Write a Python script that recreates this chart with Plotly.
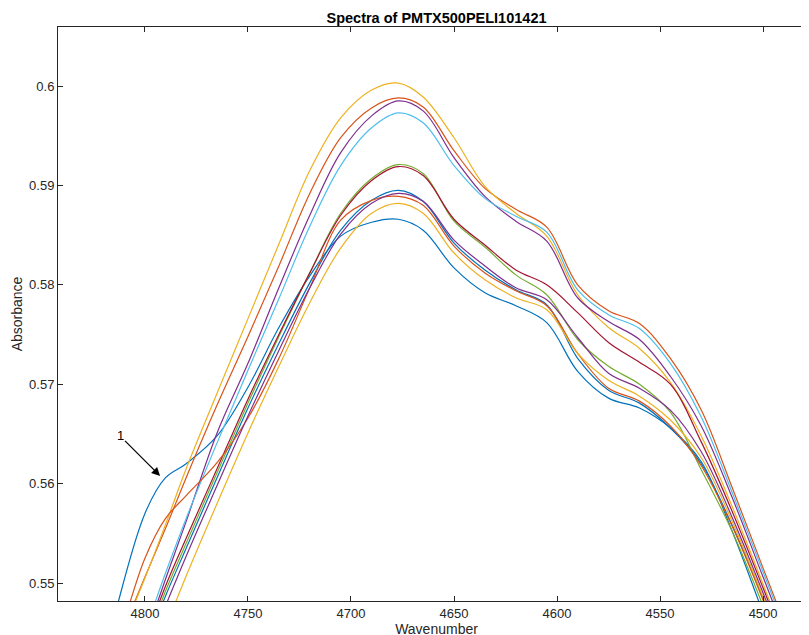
import plotly.graph_objects as go

# wavenumber grid (cm-1) the spectra were read at
wavenumber = [4830, 4815, 4800, 4790, 4780, 4765, 4750, 4735, 4720, 4705, 4690, 4677, 4665,
              4650, 4635, 4620, 4605, 4590, 4575, 4560, 4545, 4530, 4515, 4500, 4485]

# absorbance of each spectrum, plotted in this order
spec_01 = [0.5340, 0.5465, 0.5570, 0.5606, 0.5620, 0.5648, 0.5697, 0.5757, 0.5809, 0.5849, 0.5863, 0.5866, 0.5855,
           0.5817, 0.5792, 0.5779, 0.5762, 0.5713, 0.5686, 0.5676, 0.5656, 0.5622, 0.5552, 0.5470, 0.5390]
spec_02 = [0.5350, 0.5430, 0.5506, 0.5555, 0.5606, 0.5679, 0.5748, 0.5819, 0.5892, 0.5948, 0.5978, 0.5988, 0.5979,
           0.5935, 0.5897, 0.5876, 0.5858, 0.5800, 0.5774, 0.5761, 0.5726, 0.5674, 0.5596, 0.5515, 0.5435]
spec_03 = [0.5350, 0.5428, 0.5505, 0.5559, 0.5615, 0.5691, 0.5766, 0.5841, 0.5915, 0.5968, 0.5996, 0.6003, 0.5989,
           0.5948, 0.5899, 0.5872, 0.5849, 0.5790, 0.5757, 0.5736, 0.5702, 0.5648, 0.5577, 0.5499, 0.5419]
spec_04 = [0.5270, 0.5355, 0.5444, 0.5504, 0.5562, 0.5651, 0.5721, 0.5797, 0.5870, 0.5933, 0.5970, 0.5985, 0.5975,
           0.5928, 0.5889, 0.5864, 0.5844, 0.5787, 0.5763, 0.5745, 0.5708, 0.5658, 0.5586, 0.5506, 0.5426]
spec_05 = [0.5280, 0.5360, 0.5437, 0.5492, 0.5540, 0.5611, 0.5681, 0.5748, 0.5812, 0.5872, 0.5907, 0.5921, 0.5912,
           0.5864, 0.5838, 0.5810, 0.5790, 0.5745, 0.5718, 0.5700, 0.5672, 0.5614, 0.5552, 0.5477, 0.5397]
spec_06 = [0.5290, 0.5370, 0.5452, 0.5510, 0.5565, 0.5641, 0.5714, 0.5786, 0.5859, 0.5920, 0.5958, 0.5973, 0.5963,
           0.5920, 0.5887, 0.5869, 0.5853, 0.5795, 0.5770, 0.5756, 0.5721, 0.5667, 0.5591, 0.5511, 0.5431]
spec_07 = [0.5285, 0.5365, 0.5442, 0.5497, 0.5545, 0.5615, 0.5685, 0.5750, 0.5812, 0.5870, 0.5905, 0.5919, 0.5910,
           0.5866, 0.5840, 0.5815, 0.5800, 0.5772, 0.5742, 0.5722, 0.5700, 0.5642, 0.5572, 0.5495, 0.5415]
spec_08 = [0.5280, 0.5360, 0.5435, 0.5487, 0.5535, 0.5606, 0.5676, 0.5741, 0.5802, 0.5855, 0.5885, 0.5895, 0.5884,
           0.5842, 0.5815, 0.5795, 0.5780, 0.5726, 0.5694, 0.5681, 0.5656, 0.5620, 0.5558, 0.5484, 0.5404]
spec_09 = [0.5350, 0.5430, 0.5525, 0.5565, 0.5588, 0.5621, 0.5666, 0.5726, 0.5797, 0.5865, 0.5885, 0.5889, 0.5880,
           0.5839, 0.5812, 0.5794, 0.5779, 0.5731, 0.5696, 0.5683, 0.5658, 0.5618, 0.5557, 0.5483, 0.5403]
spec_10 = [0.5250, 0.5325, 0.5402, 0.5455, 0.5507, 0.5580, 0.5651, 0.5718, 0.5782, 0.5837, 0.5872, 0.5882, 0.5872,
           0.5832, 0.5805, 0.5787, 0.5775, 0.5731, 0.5704, 0.5688, 0.5664, 0.5626, 0.5562, 0.5486, 0.5406]
spec_11 = [0.5270, 0.5345, 0.5425, 0.5477, 0.5527, 0.5598, 0.5668, 0.5734, 0.5797, 0.5851, 0.5882, 0.5892, 0.5884,
           0.5845, 0.5819, 0.5797, 0.5785, 0.5747, 0.5711, 0.5696, 0.5674, 0.5632, 0.5566, 0.5490, 0.5410]

spectra = [spec_01, spec_02, spec_03, spec_04, spec_05, spec_06, spec_07, spec_08, spec_09, spec_10, spec_11]

# matlab default colour order
colors = ['#0072BD', '#D95319', '#EDB120', '#7E2F8E', '#77AC30', '#4DBEEE', '#A2142F']

x_ticks = [4800, 4750, 4700, 4650, 4600, 4550, 4500]
y_ticks = [0.55, 0.56, 0.57, 0.58, 0.59, 0.6]
y_ticklabels = ['0.55', '0.56', '0.57', '0.58', '0.59', '0.6']

# textarrow "1" pointing at the shoulder of spectrum 1
label_pos = (4812.1, 0.5648)
arrow_tip = (4792.3, 0.5607)

axis_col = '#262626'
font = 'Liberation Sans, Arial, Helvetica, sans-serif'

fig = go.Figure()
for i, s in enumerate(spectra):
    fig.add_trace(go.Scatter(x=wavenumber, y=s, mode='lines', line_shape='spline',
                             line=dict(color=colors[i % len(colors)], width=1.2),
                             showlegend=False, name=str(i + 1)))

fig.add_annotation(x=arrow_tip[0], y=arrow_tip[1], ax=label_pos[0], ay=label_pos[1],
                   axref='x', ayref='y', text='1', showarrow=True,
                   arrowhead=2, arrowsize=1.3, arrowwidth=1.3, arrowcolor='black',
                   font=dict(size=13, color='black', family=font), standoff=1)

fig.update_layout(
    width=809, height=635,
    margin=dict(l=50, r=2, t=19, b=42, autoexpand=False),
    paper_bgcolor='white', plot_bgcolor='white',
    font=dict(family=font, size=13, color=axis_col),
    title=dict(text='<b>Spectra of PMTX500PELI101421</b>', x=0.5, xref='paper',
               y=1 - 10 / 635, yref='container', yanchor='middle', automargin=False,
               font=dict(size=14.5, color='black')),
)
fig.update_xaxes(range=[4842.2, 4474.8], tickvals=x_ticks, ticks='inside', ticklen=5,
                 tickcolor=axis_col, showline=True, linecolor=axis_col, linewidth=1,
                 mirror='ticks', showgrid=False, zeroline=False, automargin=False,
                 tickfont=dict(size=13),
                 title=dict(text='Wavenumber', font=dict(size=14), standoff=2))
fig.update_yaxes(range=[0.54819, 0.60594], tickvals=y_ticks, ticktext=y_ticklabels,
                 ticks='inside', ticklen=5, tickcolor=axis_col, showline=True,
                 linecolor=axis_col, linewidth=1, mirror='ticks', showgrid=False,
                 zeroline=False, automargin=False, tickfont=dict(size=13),
                 title=dict(text='Absorbance', font=dict(size=14), standoff=3))

fig.write_html("out.html")
